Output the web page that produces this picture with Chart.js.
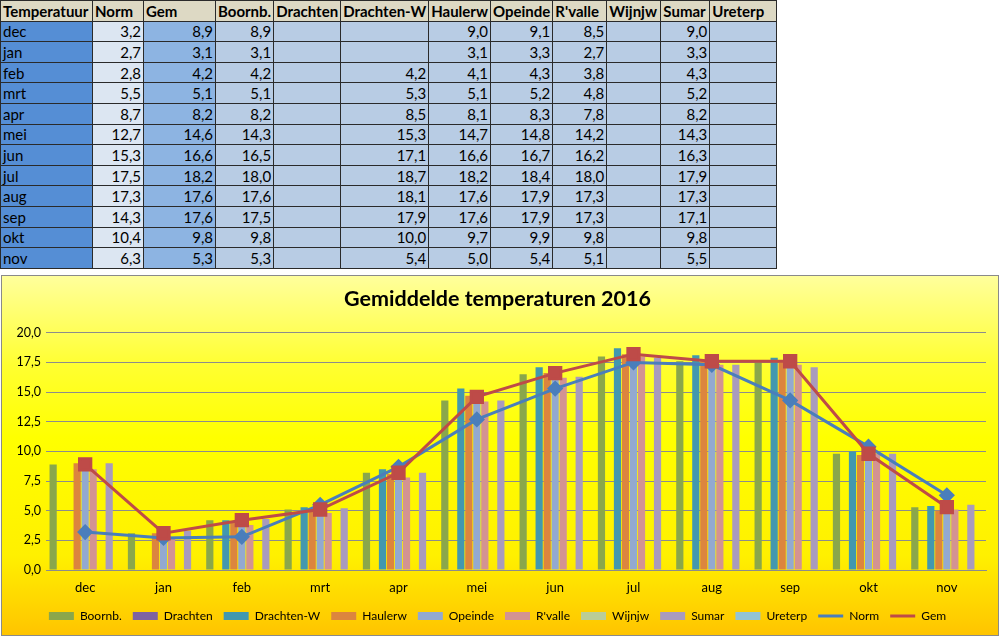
<!DOCTYPE html>
<html>
<head>
<meta charset="utf-8">
<script src="https://cdn.jsdelivr.net/npm/chart.js@4/dist/chart.umd.min.js"></script>
<style>
  body { margin: 0; background: #fff; font-family: Lato, "Open Sans", sans-serif; }
  #tbl { position: absolute; left: 0; top: 0; border-collapse: collapse; table-layout: fixed; font-size: 15px; color: #000; }
  #tbl td, #tbl th { border: 1px solid #2a2a2a; padding: 0 2px; height: 19.6px; line-height: 18px; overflow: hidden; white-space: nowrap; }
  #tbl th { background: #ddd9c4; font-weight: bold; text-align: left; }
  #tbl td { background: #b8cce4; text-align: right; }
  #tbl td.m { background: #558ed5; text-align: left; }
  #tbl td.n { background: #dce6f2; }
  #tbl td.g { background: #8db4e2; }
  #box { position: absolute; left: 1px; top: 275px; width: 998px; height: 361px; box-sizing: border-box;
         border: 1px solid #8a8a8a;
         background: linear-gradient(to bottom, #ffff9c 0%, #ffff30 25%, #ffff00 45%, #fff000 78%, #ffc400 100%); }
</style>
</head>
<body>
<table id="tbl"></table>
<div id="box"><canvas id="chart"></canvas></div>
<script>
// data read from the sheet / chart
const months = ['dec', 'jan', 'feb', 'mrt', 'apr', 'mei', 'jun', 'jul', 'aug', 'sep', 'okt', 'nov'];
const norm = [3.2, 2.7, 2.8, 5.5, 8.7, 12.7, 15.3, 17.5, 17.3, 14.3, 10.4, 6.3];
const gem = [8.9, 3.1, 4.2, 5.1, 8.2, 14.6, 16.6, 18.2, 17.6, 17.6, 9.8, 5.3];
const boornb = [8.9, 3.1, 4.2, 5.1, 8.2, 14.3, 16.5, 18.0, 17.6, 17.5, 9.8, 5.3];
const drachten = [null, null, null, null, null, null, null, null, null, null, null, null];
const drachtenW = [null, null, 4.2, 5.3, 8.5, 15.3, 17.1, 18.7, 18.1, 17.9, 10.0, 5.4];
const haulerw = [9.0, 3.1, 4.1, 5.1, 8.1, 14.7, 16.6, 18.2, 17.6, 17.6, 9.7, 5.0];
const opeinde = [9.1, 3.3, 4.3, 5.2, 8.3, 14.8, 16.7, 18.4, 17.9, 17.9, 9.9, 5.4];
const rvalle = [8.5, 2.7, 3.8, 4.8, 7.8, 14.2, 16.2, 18.0, 17.3, 17.3, 9.8, 5.1];
const wijnjw = [null, null, null, null, null, null, null, null, null, null, null, null];
const sumar = [9.0, 3.3, 4.3, 5.2, 8.2, 14.3, 16.3, 17.9, 17.3, 17.1, 9.8, 5.5];
const ureterp = [null, null, null, null, null, null, null, null, null, null, null, null];

const headers = ['Temperatuur', 'Norm', 'Gem', 'Boornb.', 'Drachten', 'Drachten-W', 'Haulerw', 'Opeinde', "R'valle", 'Wijnjw', 'Sumar', 'Ureterp'];
const colWidths = [92, 51, 72, 58, 67, 87, 60, 62, 54, 54, 49, 67];

const stations = [
  ['Boornb.', boornb, '#8aa74b'],
  ['Drachten', drachten, '#7e63a1'],
  ['Drachten-W', drachtenW, '#4298af'],
  ['Haulerw', haulerw, '#dc853e'],
  ['Opeinde', opeinde, '#93a9d0'],
  ["R'valle", rvalle, '#d39392'],
  ['Wijnjw', wijnjw, '#bacd97'],
  ['Sumar', sumar, '#a99bbd'],
  ['Ureterp', ureterp, '#93c3d5']
];

const fmt = v => v == null ? '' : v.toFixed(1).replace('.', ',');

// table
const tbl = document.getElementById('tbl');
let cg = '<colgroup>' + colWidths.map(w => '<col style="width:' + w + 'px">').join('') + '</colgroup>';
let html = cg + '<tr>' + headers.map(h => '<th>' + h + '</th>').join('') + '</tr>';
months.forEach((m, i) => {
  html += '<tr><td class="m">' + m + '</td><td class="n">' + fmt(norm[i]) + '</td><td class="g">' + fmt(gem[i]) + '</td>';
  stations.forEach(s => { html += '<td>' + fmt(s[1][i]) + '</td>'; });
  html += '</tr>';
});
tbl.innerHTML = html;

// chart
const barSets = stations.map(s => ({
  type: 'bar',
  label: s[0],
  data: s[1],
  backgroundColor: s[2],
  borderWidth: 0,
  categoryPercentage: 0.92,
  barPercentage: 0.9,
  pointStyle: 'rect',
  order: 2
}));

const lineSets = [
  { type: 'line', label: 'Norm', data: norm, borderColor: '#4a7ebb', backgroundColor: '#4a7ebb',
    borderWidth: 3, pointStyle: 'rectRot', pointRadius: 6, order: 1 },
  { type: 'line', label: 'Gem', data: gem, borderColor: '#be4b48', backgroundColor: '#be4b48',
    borderWidth: 3, pointStyle: 'rect', pointRadius: 8, order: 0 }
];

const font = 'Lato, "Open Sans", sans-serif';

new Chart(document.getElementById('chart'), {
  data: { labels: months, datasets: barSets.concat(lineSets) },
  options: {
    responsive: true,
    maintainAspectRatio: false,
    animation: false,
    layout: { padding: { left: 7, right: 12, top: 6, bottom: 3 } },
    plugins: {
      title: {
        display: true,
        text: 'Gemiddelde temperaturen 2016',
        color: '#000',
        font: { family: font, size: 21.5, weight: 'bold' },
        padding: { top: 4, bottom: 21 }
      },
      legend: {
        position: 'bottom',
        labels: {
          usePointStyle: true,
          pointStyleWidth: 25,
          boxHeight: 8,
          padding: 11,
          color: '#000',
          font: { family: font, size: 12 },
          sort: (a, b) => a.datasetIndex - b.datasetIndex,
          generateLabels(chart) {
            const items = Chart.defaults.plugins.legend.labels.generateLabels(chart);
            items.forEach(it => {
              const ds = chart.data.datasets[it.datasetIndex];
              if (ds.type === 'line') { it.pointStyle = 'line'; it.lineWidth = 3; }
              else { it.lineWidth = 0; }
            });
            return items;
          }
        }
      },
      tooltip: { enabled: false }
    },
    scales: {
      x: {
        afterFit(scale) { scale.height = 29; },
        grid: { display: false, drawTicks: false },
        border: { display: true, color: '#8c8c8c' },
        ticks: { color: '#000', font: { family: font, size: 13 }, padding: 10 }
      },
      y: {
        min: 0,
        max: 20,
        afterFit(scale) { scale.width = 37; },
        grid: { color: '#8c8c8c', drawTicks: false },
        border: { display: false },
        ticks: {
          stepSize: 2.5,
          padding: 5,
          color: '#000',
          font: { family: font, size: 12.5 },
          callback: v => v.toFixed(1).replace('.', ',')
        }
      }
    }
  }
});
</script>
</body>
</html>
